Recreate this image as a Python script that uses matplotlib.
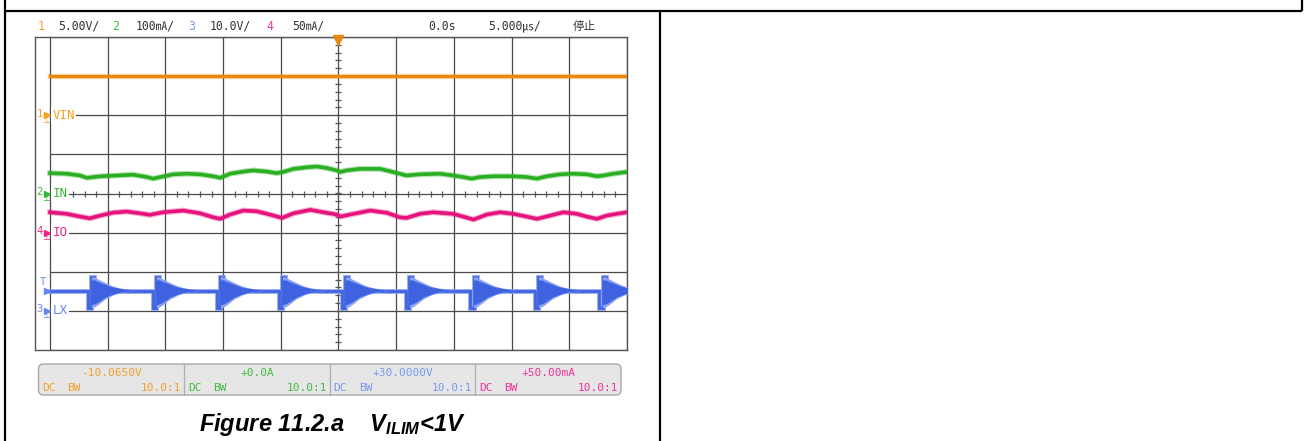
import matplotlib
matplotlib.use("Agg")
import matplotlib.pyplot as plt
from matplotlib.patches import FancyBboxPatch
import numpy as np

W, H = 1306, 441
SCOPE_FONT = ["DejaVu Sans Mono", "Noto Sans CJK SC"]

plt.rcParams["mathtext.fontset"] = "custom"
plt.rcParams["mathtext.rm"] = "Liberation Sans:bold:italic"
plt.rcParams["mathtext.it"] = "Liberation Sans:bold:italic"

# ---- scope settings -------------------------------------------------------
TIME_PER_DIV = 5.0            # us/div
CH1_SCALE, CH1_GND = 5.0, 2.0     # V/div, ground in div
CH2_SCALE, CH2_GND = 100.0, 0.0   # mA/div
CH3_SCALE, CH3_GND = 10.0, -3.0   # V/div
CH4_SCALE, CH4_GND = 50.0, -1.0   # mA/div

# ---- data (t in us) -------------------------------------------------------
vin_t = [-25.0, 25.0]
vin_v = [5.0, 5.0]

iin_t = [-25.0, -23.55, -22.4, -21.8, -20.65, -19.2, -17.8, -16.6, -16.05, -15.45,
         -14.3, -13.15, -12.0, -10.85, -10.25, -9.4, -8.25, -7.4, -6.2, -5.35,
         -4.8, -3.9, -2.75, -1.9, -1.0, -0.15, 0.15, 0.7, 1.85, 3.6,
         4.45, 5.3, 5.9, 7.05, 8.8, 9.95, 10.8, 11.55, 12.25, 13.4,
         15.15, 16.3, 17.2, 18.05, 19.2, 20.35, 21.5, 22.4, 22.95, 23.8, 25.0]
iin_ma = [52, 50.5, 46, 40, 44, 46, 48, 42, 38, 42,
          49, 50.5, 49, 44, 40, 50.5, 56, 59, 56, 52,
          55, 63, 67, 69, 65, 59, 55, 59, 63, 63,
          57, 50.5, 46, 49, 50.5, 46, 42, 38, 42, 44,
          44, 42, 38, 44, 49, 50.5, 49, 44, 46, 50.5, 55]

io_t = [-25.0, -23.55, -22.4, -21.55, -20.65, -19.5, -18.35, -17.2, -16.35, -15.2,
        -13.45, -12.0, -10.85, -10.25, -9.4, -8.25, -7.1, -5.95, -4.9, -3.9,
        -2.45, -1.3, -0.15, 0.15, 1.3, 2.75, 4.2, 5.3, 5.9, 7.05,
        8.2, 9.95, 11.7, 12.85, 14.0, 15.15, 16.3, 17.2, 18.35, 19.5,
        20.65, 21.5, 22.4, 23.25, 24.4, 25.0]
io_ma = [26, 24, 20.5, 18.3, 21.8, 25.6, 26.9, 24.7, 22.7, 26,
         28.2, 24.7, 19.6, 17.6, 23.1, 28.2, 27.3, 23.1, 18.8, 24.7,
         29.1, 26, 23.1, 20.5, 24, 28.2, 25.3, 19.6, 18.8, 24,
         26, 24, 16.7, 23.1, 26, 24, 20.5, 17.6, 21.8, 26,
         24, 20.5, 17.6, 21.8, 24.7, 26]

lx_burst_t = [-21.71, -16.08, -10.53, -5.16, 0.30, 5.85, 11.40, 17.03, 22.58]
lx_base_v = 5.2
lx_low_v = 0.7
lx_dip_us = 0.3
lx_top_v = 8.7
# ringing envelope after each rising edge
ring_dt = [0.0, 0.26, 0.52, 0.87, 1.21, 1.56, 1.91, 2.43, 3.03, 3.64]
ring_hi = [8.7, 8.7, 8.2, 7.7, 7.2, 6.7, 6.3, 5.9, 5.6, 5.4]
ring_lo = [0.8, 1.0, 1.5, 2.3, 3.1, 3.6, 4.1, 4.6, 4.9, 5.1]
trig_level_v = 5.1

header_items = [("1", "#F0A030"), ("5.00V/", "#333333"), ("2", "#44BB44"), ("100\u3383/", "#333333"),
                ("3", "#7799EE"), ("10.0V/", "#333333"), ("4", "#EE3399"), ("50\u3383/", "#333333"),
                ("0.0s", "#333333"), ("5.000\u33b2/", "#333333"), ("停止", "#333333")]
header_x = [38, 58, 112, 136, 188, 210, 266, 292, 428, 488, 573]

bar_values = ["-10.0650V", "+0.0A", "+30.0000V", "+50.00mA"]
bar_colors = ["#F0A030", "#44BB44", "#7799EE", "#EE3399"]

ORANGE, GREEN, BLUE, MAGENTA = "#E8880C", "#2AAE22", "#3E62E0", "#E5137C"


def div(values, scale, gnd):
    return np.asarray(values, dtype=float) / scale + gnd


def fx(px):
    return px / W


def fy(py):
    return 1 - py / H


fig = plt.figure(figsize=(W / 100, H / 100), dpi=100)

# page overlay (table borders, info bar, caption) in pixel coords
over = fig.add_axes([0, 0, 1, 1])
over.set_xlim(0, W)
over.set_ylim(H, 0)
over.axis("off")
for xs, ys in [([5, 5], [0, H]), ([5, 1302], [11, 11]), ([1302, 1302], [0, 11]), ([660, 660], [11, H])]:
    over.plot(xs, ys, color="black", lw=1.6, solid_capstyle="butt")

bar_x0, bar_x1, bar_y0, bar_y1 = 38.5, 621, 364, 395
over.add_patch(FancyBboxPatch((bar_x0, bar_y0), bar_x1 - bar_x0, bar_y1 - bar_y0,
                              boxstyle="round,pad=0,rounding_size=5",
                              facecolor="#E6E6E6", edgecolor="#A8A8A8", lw=1))
sec_w = (bar_x1 - bar_x0) / 4
for i, (val, col) in enumerate(zip(bar_values, bar_colors)):
    x0 = bar_x0 + i * sec_w
    if i > 0:
        over.plot([x0, x0], [bar_y0, bar_y1], color="#B0B0B0", lw=1)
    over.text(x0 + sec_w / 2, 373, val, color=col, fontsize=8, ha="center", va="center",
              family=SCOPE_FONT)
    over.text(x0 + 4, 388, "DC", color=col, fontsize=8, ha="left", va="center", family=SCOPE_FONT)
    over.text(x0 + 29, 388, "BW", color=col, fontsize=8, ha="left", va="center", family=SCOPE_FONT)
    over.text(x0 + sec_w - 3, 388, "10.0:1", color=col, fontsize=8, ha="right", va="center",
              family=SCOPE_FONT)

over.text(332, 424, "Figure 11.2.a    V$_{\\mathrm{ILIM}}$<1V", fontsize=17, ha="center", va="center",
          family="Liberation Sans", fontweight="bold", fontstyle="italic")

for (txt, col), x in zip(header_items, header_x):
    over.text(x, 26, txt, color=col, fontsize=8.3, ha="left", va="center", family=SCOPE_FONT)

# ---- scope screen ---------------------------------------------------------
px_div = 57.7
x_left_t = -25 - (50 - 35) / px_div * TIME_PER_DIV
ax = fig.add_axes([fx(35), fy(350), fx(627) - fx(35), fy(37) - fy(350)])
ax.set_xlim(x_left_t, 25)
ax.set_ylim(-4, 4)
ax.set_xticks([])
ax.set_yticks([])
for s in ax.spines.values():
    s.set_color("#555555")
    s.set_linewidth(1)

grid_t = np.arange(-25, 25.1, TIME_PER_DIV)
ax.vlines(grid_t, -4, 4, color="#4A4A4A", lw=0.9, zorder=1)
ax.hlines(np.arange(-4, 4.1, 1), -25, 25, color="#4A4A4A", lw=0.9, zorder=1)
minor_y = np.arange(-4, 4.01, 0.2)
ax.plot(np.zeros_like(minor_y), minor_y, ls="none", marker="_", ms=5, mew=0.9, color="#555555", zorder=1)
minor_t = np.arange(-25, 25.01, 1.0)
ax.plot(minor_t, np.zeros_like(minor_t), ls="none", marker="|", ms=5, mew=0.9, color="#555555", zorder=1)


def trace(t, y, color, lw=2.6):
    ax.plot(t, y, color=color, lw=lw + 1.6, alpha=0.35, zorder=3, solid_joinstyle="round")
    ax.plot(t, y, color=color, lw=lw, zorder=3, solid_joinstyle="round")


trace(vin_t, div(vin_v, CH1_SCALE, CH1_GND), ORANGE, lw=2.3)
trace(iin_t, div(iin_ma, CH2_SCALE, CH2_GND), GREEN)
trace(io_t, div(io_ma, CH4_SCALE, CH4_GND), MAGENTA)

# LX: baseline with dips, then ringing after every rising edge
lx_t, lx_v = [-25.0], [lx_base_v]
for tb in lx_burst_t:
    tr = tb + lx_dip_us
    lx_t += [tb, tb, tr, tr, tr + ring_dt[1], tr + ring_dt[1]]
    lx_v += [lx_base_v, lx_low_v, lx_low_v, lx_top_v, lx_top_v, lx_base_v]
lx_t.append(25.0)
lx_v.append(lx_base_v)
lx_div = div(lx_v, CH3_SCALE, CH3_GND)
ax.plot(lx_t, lx_div, color="#8AA2F0", lw=3.4, zorder=3, solid_joinstyle="miter")
ax.plot(lx_t, lx_div, color=BLUE, lw=1.9, zorder=3, solid_joinstyle="miter")
for tb in lx_burst_t:
    tr = np.asarray(ring_dt) + tb + lx_dip_us
    lo = np.asarray(ring_lo)
    hi = np.asarray(ring_hi)
    ax.fill_between(tr, div(lo, CH3_SCALE, CH3_GND), div(hi, CH3_SCALE, CH3_GND),
                    color="#8AA2F0", lw=0, zorder=3)
    mid = (lo + hi) / 2
    ax.fill_between(tr, div(mid - (hi - lo) * 0.4, CH3_SCALE, CH3_GND),
                    div(mid + (hi - lo) * 0.4, CH3_SCALE, CH3_GND),
                    color=BLUE, lw=0, zorder=3)

# channel labels and ground markers
labels = [("1", "VIN", CH1_GND, "#F5A020"), ("2", "IN", CH2_GND, "#33BB33"),
          ("4", "IO", CH4_GND, "#EE2288"), ("3", "LX", CH3_GND, "#6688EE")]
t_num = x_left_t + 0.12
for num, name, g, col in labels:
    ax.text(t_num, g + 0.04, num, color=col, fontsize=7.5, ha="left", va="center", family=SCOPE_FONT,
            clip_on=False)
    ax.text(x_left_t + 0.6, g - 0.13, "\u22a5", color=col, fontsize=6.5, ha="left", va="center",
            family="DejaVu Sans", clip_on=False)
    ax.plot(-25.25, g, marker=">", ms=4, color=col, clip_on=False, zorder=4)
    ax.text(-24.8, g, name, color=col, fontsize=9, ha="left", va="center", family=SCOPE_FONT, zorder=4,
            bbox=dict(facecolor="white", edgecolor="none", pad=1.0))

trig_div = div(trig_level_v, CH3_SCALE, CH3_GND)
ax.plot(-25.25, trig_div, marker=">", ms=4, color="#6688EE", clip_on=False, zorder=4)
ax.text(-25.6, trig_div + 0.22, "T", color="#6688EE", fontsize=7.5, ha="center", va="center",
        family=SCOPE_FONT, clip_on=False)
ax.plot(0, 3.93, marker="v", ms=7, color=ORANGE, clip_on=False, zorder=5)

fig.savefig("out.png", dpi=100)
